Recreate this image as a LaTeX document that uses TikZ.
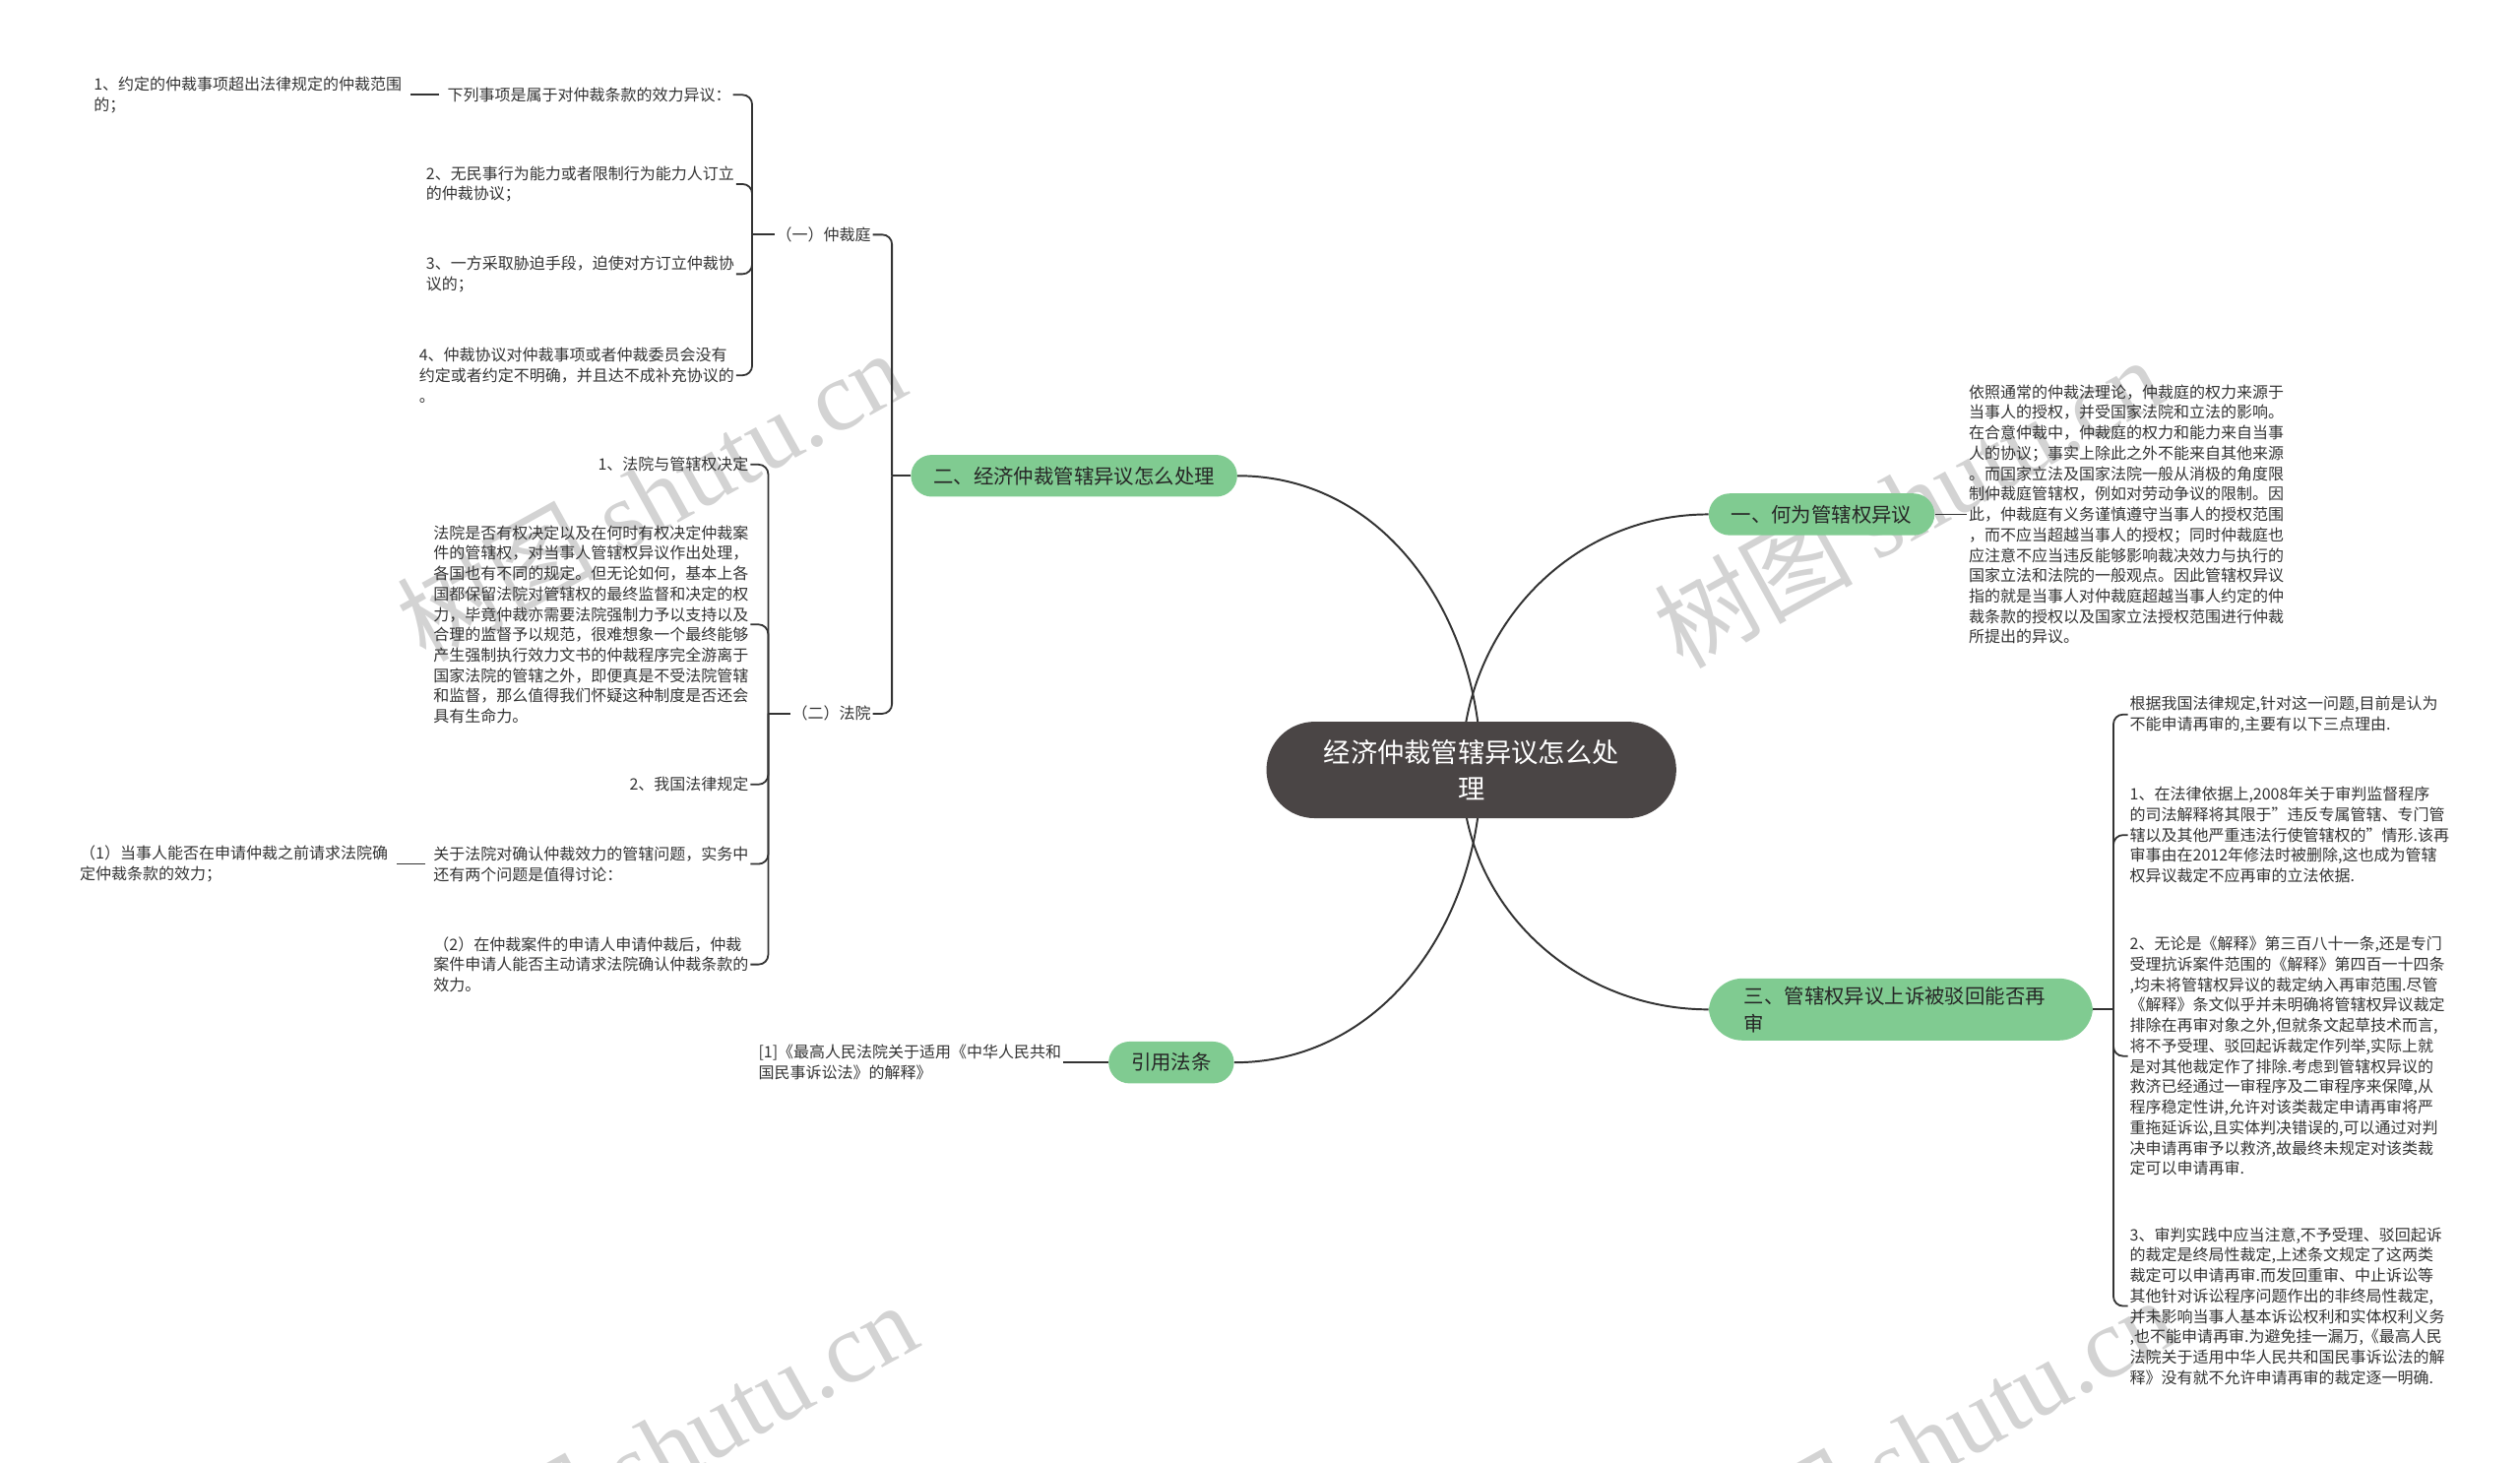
\documentclass[tikz,border=0pt]{standalone}
\usepackage{fontspec}
\setmainfont{Noto Sans CJK SC}
\newfontfamily\markfont{Liberation Serif}
\usepackage{xcolor}
\usepackage{tikz}
\usetikzlibrary{positioning}

\definecolor{RootGray}{HTML}{4A4545}
\definecolor{BranchGreen}{HTML}{80CB91}
\definecolor{LinkGray}{HTML}{333333}
\definecolor{MarkGray}{HTML}{D3D3D3}

\tikzset{
	rootnode/.style={fill=RootGray, text=white, rounded corners=30pt, minimum width=255pt, minimum height=60pt, text width=200pt, align=center, inner sep=0pt, font=\fontsize{16.7}{23}\selectfont},
	branchnode/.style={fill=BranchGreen, text=black!85, rounded corners=13pt, minimum height=26pt, inner xsep=14pt, inner ysep=5pt, font=\fontsize{12.5}{17}\selectfont},
	leaftext/.style={text=LinkGray, align=left, inner sep=1pt, font=\fontsize{9.8}{12.7}\selectfont},
	mainlink/.style={draw=LinkGray, line width=1.2pt},
	hook/.style={draw=LinkGray, line width=1.1pt, rounded corners=6pt},
	watermark/.style={text=MarkGray, rotate=29, inner sep=0pt, font=\fontsize{62}{62}\selectfont},
}

\begin{document}
\begin{tikzpicture}[x=1pt, y=1pt]
		
		% ---------------------
		% Proper size --- Bounding box
		\useasboundingbox (0,0) rectangle (1568,-910);
		
		% ---------------------
		% Watermarks
		\node[watermark] (Mark1) at (405,-308) {树图 {\markfont shutu.cn}};
		\node[watermark] (Mark2) at (1187,-312) {树图 {\markfont shutu.cn}};
		\node[watermark] (Mark3) at (412,-900) {树图 {\markfont shutu.cn}};
		\node[watermark] (Mark4) at (1195,-897) {树图 {\markfont shutu.cn}};
		
		% ---------------------
		% Root & link origins
		\coordinate (RootC) at (915.5,-479);
		\path (RootC) +(-6,0) coordinate (RootR);
		\path (RootC) +(6,0) coordinate (RootL);
		
		% ---------------------
		% Right side
		\node[branchnode, anchor=west] (Why) at (1063,-320) {一、何为管辖权异议};
		\node[leaftext, right=20pt of Why] (WhyText) {依照通常的仲裁法理论，仲裁庭的权力来源于\\当事人的授权，并受国家法院和立法的影响。\\在合意仲裁中，仲裁庭的权力和能力来自当事\\人的协议；事实上除此之外不能来自其他来源\\。而国家立法及国家法院一般从消极的角度限\\制仲裁庭管辖权，例如对劳动争议的限制。因\\此，仲裁庭有义务谨慎遵守当事人的授权范围\\，而不应当超越当事人的授权；同时仲裁庭也\\应注意不应当违反能够影响裁决效力与执行的\\国家立法和法院的一般观点。因此管辖权异议\\指的就是当事人对仲裁庭超越当事人约定的仲\\裁条款的授权以及国家立法授权范围进行仲裁\\所提出的异议。};
		
		\node[branchnode, anchor=west, rounded corners=21pt, text width=195pt, align=left, inner xsep=22pt] (Appeal) at (1063,-628) {三、管辖权异议上诉被驳回能否再\\审};
		\coordinate (AppealJ) at (1315,-628);
		
		\node[leaftext, anchor=west] (AppealA) at (1324,-444.5) {根据我国法律规定,针对这一问题,目前是认为\\不能申请再审的,主要有以下三点理由.};
		\node[leaftext, anchor=west] (AppealB) at (1324,-519.5) {1、在法律依据上,2008年关于审判监督程序\\的司法解释将其限于"违反专属管辖、专门管\\辖以及其他严重违法行使管辖权的"情形.该再\\审事由在2012年修法时被删除,这也成为管辖\\权异议裁定不应再审的立法依据.};
		\node[leaftext, anchor=west] (AppealC) at (1324,-657) {2、无论是《解释》第三百八十一条,还是专门\\受理抗诉案件范围的《解释》第四百一十四条\\,均未将管辖权异议的裁定纳入再审范围.尽管\\《解释》条文似乎并未明确将管辖权异议裁定\\排除在再审对象之外,但就条文起草技术而言,\\将不予受理、驳回起诉裁定作列举,实际上就\\是对其他裁定作了排除.考虑到管辖权异议的\\救济已经通过一审程序及二审程序来保障,从\\程序稳定性讲,允许对该类裁定申请再审将严\\重拖延诉讼,且实体判决错误的,可以通过对判\\决申请再审予以救济,故最终未规定对该类裁\\定可以申请再审.};
		\node[leaftext, anchor=west] (AppealD) at (1324,-812.5) {3、审判实践中应当注意,不予受理、驳回起诉\\的裁定是终局性裁定,上述条文规定了这两类\\裁定可以申请再审.而发回重审、中止诉讼等\\其他针对诉讼程序问题作出的非终局性裁定,\\并未影响当事人基本诉讼权利和实体权利义务\\,也不能申请再审.为避免挂一漏万,《最高人民\\法院关于适用中华人民共和国民事诉讼法的解\\释》没有就不允许申请再审的裁定逐一明确.};
		
		% ---------------------
		% Left side
		\node[branchnode, anchor=east] (How) at (770,-296) {二、经济仲裁管辖异议怎么处理};
		\coordinate (HowJ) at (555,-296);
		
		\node[leaftext, anchor=east] (Tribunal) at (543,-146) {（一）仲裁庭};
		\coordinate (TribunalJ) at (468,-146);
		\node[leaftext, anchor=east] (Court) at (543,-444) {（二）法院};
		\coordinate (CourtJ) at (478,-444);
		
		\node[leaftext, anchor=east] (TribA) at (456,-59) {下列事项是属于对仲裁条款的效力异议：};
		\node[leaftext, left=26pt of TribA] (TribA1) {1、约定的仲裁事项超出法律规定的仲裁范围\\的；};
		\node[leaftext, anchor=east] (TribB) at (458,-114.5) {2、无民事行为能力或者限制行为能力人订立\\的仲裁协议；};
		\node[leaftext, anchor=east] (TribC) at (458,-170.5) {3、一方采取胁迫手段，迫使对方订立仲裁协\\议的；};
		\node[leaftext, anchor=east] (TribD) at (458,-233.5) {4、仲裁协议对仲裁事项或者仲裁委员会没有\\约定或者约定不明确，并且达不成补充协议的\\。};
		
		\node[leaftext, anchor=east] (CourtA) at (467,-289) {1、法院与管辖权决定};
		\node[leaftext, anchor=east] (CourtB) at (467,-388.5) {法院是否有权决定以及在何时有权决定仲裁案\\件的管辖权，对当事人管辖权异议作出处理，\\各国也有不同的规定。但无论如何，基本上各\\国都保留法院对管辖权的最终监督和决定的权\\力，毕竟仲裁亦需要法院强制力予以支持以及\\合理的监督予以规范，很难想象一个最终能够\\产生强制执行效力文书的仲裁程序完全游离于\\国家法院的管辖之外，即便真是不受法院管辖\\和监督，那么值得我们怀疑这种制度是否还会\\具有生命力。};
		\node[leaftext, anchor=east] (CourtC) at (467,-488) {2、我国法律规定};
		\node[leaftext, anchor=east] (CourtD) at (467,-537.5) {关于法院对确认仲裁效力的管辖问题，实务中\\还有两个问题是值得讨论：};
		\node[leaftext, left=26pt of CourtD] (CourtD1) {（1）当事人能否在申请仲裁之前请求法院确\\定仲裁条款的效力；};
		\node[leaftext, anchor=east] (CourtE) at (467,-600) {（2）在仲裁案件的申请人申请仲裁后，仲裁\\案件申请人能否主动请求法院确认仲裁条款的\\效力。};
		
		\node[branchnode, anchor=east] (Cite) at (768,-661) {引用法条};
		\node[leaftext, left=28pt of Cite] (CiteText) {[1]《最高人民法院关于适用《中华人民共和\\国民事诉讼法》的解释》};
		
		% ---------------------
		% Links
		\draw[mainlink] (RootR) to[out=90, in=180] (Why.west);
		\draw[mainlink] (RootR) to[out=270, in=180] (Appeal.west);
		\draw[mainlink] (RootL) to[out=90, in=0] (How.east);
		\draw[mainlink] (RootL) to[out=270, in=0] (Cite.east);
		
		\draw[hook] (Why.east) -- (WhyText.west);
		\draw[hook] (Appeal.east) -- (AppealJ);
		\foreach \leaf in {AppealA, AppealB, AppealC, AppealD}
			\draw[hook] (AppealJ) |- (\leaf.west);
		
		\draw[hook] (How.west) -- (HowJ);
		\draw[hook] (HowJ) |- (Tribunal.east);
		\draw[hook] (HowJ) |- (Court.east);
		
		\draw[hook] (Tribunal.west) -- (TribunalJ);
		\foreach \leaf in {TribA, TribB, TribC, TribD}
			\draw[hook] (TribunalJ) |- (\leaf.east);
		\draw[hook, shorten >=4pt, shorten <=4pt] (TribA.west) -- (TribA1.east);
		
		\draw[hook] (Court.west) -- (CourtJ);
		\foreach \leaf in {CourtA, CourtB, CourtC, CourtD, CourtE}
			\draw[hook] (CourtJ) |- (\leaf.east);
		\draw[hook, shorten >=4pt, shorten <=4pt] (CourtD.west) -- (CourtD1.east);
		
		\draw[hook] (Cite.west) -- (CiteText.east);
		
		% ---------------------
		% Root on top of the link origins
		\node[rootnode] (Root) at (RootC) {经济仲裁管辖异议怎么处\\理};
		
\end{tikzpicture}
\end{document}
